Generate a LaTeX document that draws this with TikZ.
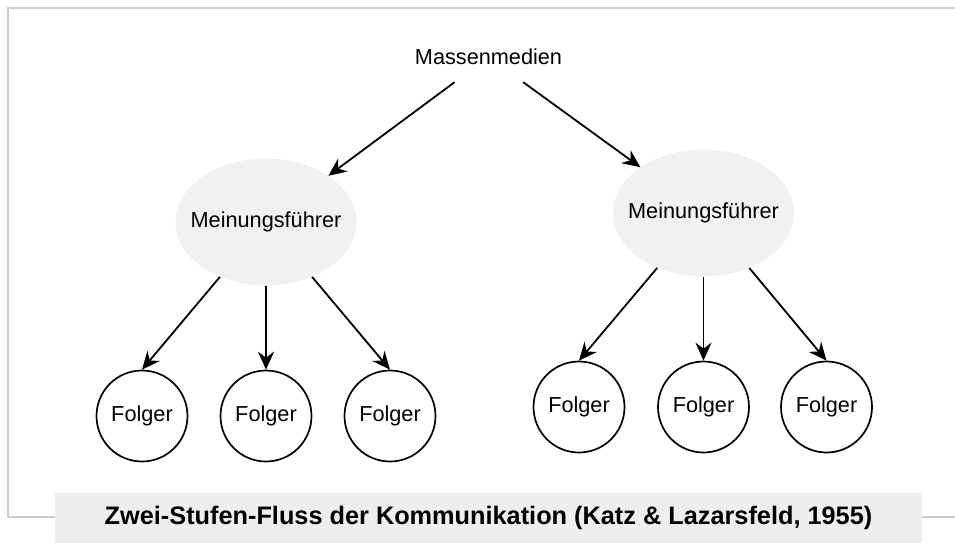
\documentclass[tikz,border=0pt]{standalone}
\usepackage{fontspec}
\setmainfont{Liberation Sans}
\usepackage{tikz}
\usetikzlibrary{shapes,arrows.meta}

\definecolor{leaderfill}{RGB}{242,240,242}
\definecolor{captionfill}{RGB}{238,238,238}
\definecolor{framegray}{RGB}{204,204,204}

\begin{document}
\begin{tikzpicture}[x=1pt,y=-1pt]

% Define node and arrow styles
\tikzstyle{plain} = [font=\fontsize{21.7}{26}\selectfont]
\tikzstyle{leader} = [plain, ellipse, fill=leaderfill, inner ysep=0pt,
    inner xsep=-14pt, minimum width=181pt, minimum height=127pt]
\tikzstyle{follower} = [plain, circle, draw=black, line width=1.7pt,
    inner sep=0pt, minimum size=91pt]
\tikzstyle{flow} = [draw=black, line width=1.8pt,
    -{Stealth[length=18pt,width=16pt,inset=6pt]}]
\tikzstyle{caption} = [fill=captionfill, inner sep=0pt,
    minimum width=867pt, minimum height=50pt,
    font=\fontsize{25.3}{30}\selectfont\bfseries]

\useasboundingbox (0,0) rectangle (955,543);

% outer frame, open on the right
\draw[framegray, line width=1.5pt] (960,8) -- (8,8) -- (8,517) -- (960,517);

\node [plain, minimum height=50pt, inner sep=0pt] (media) at (488.5,57) {Massenmedien};

\node [leader] (leaderL) at (266,222) {Meinungsführer};
\node [leader] (leaderR) at (703.5,213) {Meinungsführer};

\node [follower] (folL1) at (142,416) {Folger};
\node [follower] (folL2) at (266,416) {Folger};
\node [follower] (folL3) at (390,416) {Folger};

\node [follower] (folR1) at (579,407) {Folger};
\node [follower] (folR2) at (703.5,407) {Folger};
\node [follower] (folR3) at (826.5,407) {Folger};

\draw [flow] (media) -- (leaderL);
\draw [flow] (media) -- (leaderR);

\foreach \f in {folL1,folL2,folL3}
    \draw [flow] (leaderL) -- (\f.north);
\foreach \f in {folR1,folR2,folR3}
    \draw [flow] (leaderR) -- (\f.north);

\node [caption] (title) at (488.5,518)
    {Zwei-Stufen-Fluss der Kommunikation (Katz \& Lazarsfeld, 1955)};

\end{tikzpicture}
\end{document}
